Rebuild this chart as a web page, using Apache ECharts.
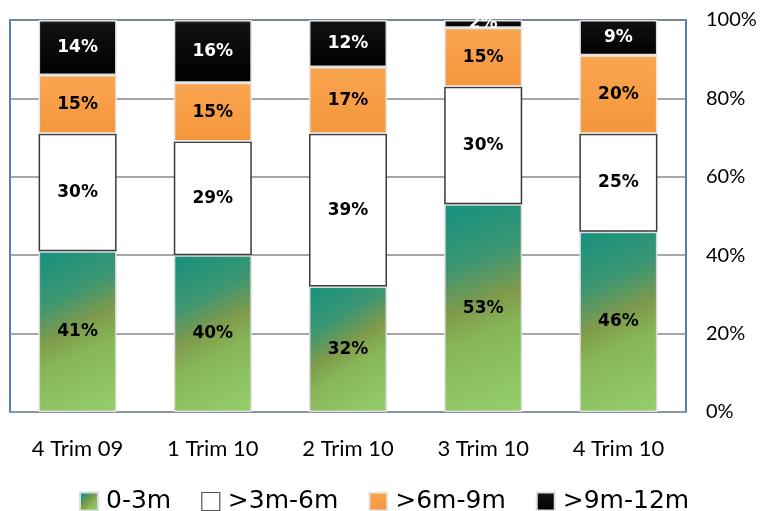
<!DOCTYPE html>
<html>
<head>
<meta charset="utf-8">
<script src="https://cdn.jsdelivr.net/npm/echarts@6/dist/echarts.min.js"></script>
<style>
  html, body { margin: 0; padding: 0; background: #fff; }
  #chart { width: 762px; height: 511px; }
</style>
</head>
<body>
<div id="chart"></div>
<script>
// Quarterly categories
const categories = ['4 Trim 09', '1 Trim 10', '2 Trim 10', '3 Trim 10', '4 Trim 10'];

// Share of each age bucket per quarter (%)
const seriesNames = ['0-3m', '>3m-6m', '>6m-9m', '>9m-12m'];
const age0to3 = [41, 40, 32, 53, 46];
const age3to6 = [30, 29, 39, 30, 25];
const age6to9 = [15, 15, 17, 15, 20];
const age9to12 = [14, 16, 12, 2, 9];

const yTicks = [0, 20, 40, 60, 80, 100];

const chart = echarts.init(document.getElementById('chart'), null, { renderer: 'canvas' });

const greenFill = new echarts.graphic.LinearGradient(0, 0, 1, 1, [
  { offset: 0, color: '#14917f' },
  { offset: 0.28, color: '#3b9673' },
  { offset: 0.47, color: '#7f9a4c' },
  { offset: 0.62, color: '#87b657' },
  { offset: 1, color: '#94d06a' }
]);
const orangeFill = new echarts.graphic.LinearGradient(0, 0, 0, 1, [
  { offset: 0, color: '#f9a651' },
  { offset: 1, color: '#f4963b' }
]);
const blackFill = new echarts.graphic.LinearGradient(0, 0, 0, 1, [
  { offset: 0, color: '#555555' },
  { offset: 0.06, color: '#111111' },
  { offset: 1, color: '#000000' }
]);

const labelFont = {
  show: true,
  position: 'inside',
  fontFamily: 'DejaVu Sans',
  fontWeight: 'bold',
  fontSize: 17,
  formatter: p => p.value + '%'
};

function bar(name, data, fill, border, labelColor) {
  return {
    name: name,
    type: 'bar',
    stack: 'total',
    barWidth: 78,
    data: data,
    itemStyle: { color: fill, borderColor: border, borderWidth: 1.5 },
    label: Object.assign({}, labelFont, { color: labelColor }),
    emphasis: { disabled: true }
  };
}

chart.setOption({
  animation: false,
  backgroundColor: '#ffffff',
  grid: {
    left: 10, right: 76, top: 20, bottom: 99,
    show: true,
    borderColor: '#4f81bd',
    borderWidth: 2,
    backgroundColor: 'transparent'
  },
  legend: {
    left: 74,
    top: 484,
    itemWidth: 18,
    itemHeight: 18,
    itemGap: 30,
    icon: 'rect',
    textStyle: {
      fontFamily: 'DejaVu Sans',
      fontSize: 25,
      color: '#000',
      padding: [0, 0, 0, 3]
    },
    data: seriesNames.map((n, i) => i === 1
      ? { name: n, itemStyle: { color: '#ffffff', borderColor: '#555', borderWidth: 1.2 } }
      : { name: n })
  },
  xAxis: {
    type: 'category',
    data: categories,
    axisTick: { show: false },
    axisLine: { show: true, lineStyle: { color: '#8a94a3', width: 2 } },
    axisLabel: {
      margin: 26,
      fontFamily: 'Lato',
      fontSize: 22,
      color: '#000'
    }
  },
  yAxis: {
    type: 'value',
    position: 'right',
    min: yTicks[0],
    max: yTicks[yTicks.length - 1],
    interval: 20,
    axisLine: { show: false },
    axisTick: { show: false },
    splitLine: { show: true, lineStyle: { color: '#888888', width: 1.5 } },
    axisLabel: {
      margin: 20,
      fontFamily: 'Lato',
      fontSize: 20,
      color: '#000',
      formatter: v => v + '%'
    }
  },
  series: [
    bar(seriesNames[0], age0to3, greenFill, '#dcdcdc', '#000'),
    bar(seriesNames[1], age3to6, '#ffffff', '#3a3a3a', '#000'),
    bar(seriesNames[2], age6to9, orangeFill, '#e6e6e6', '#000'),
    bar(seriesNames[3], age9to12, blackFill, '#e0e0e0', '#ffffff')
  ]
});
</script>
</body>
</html>
